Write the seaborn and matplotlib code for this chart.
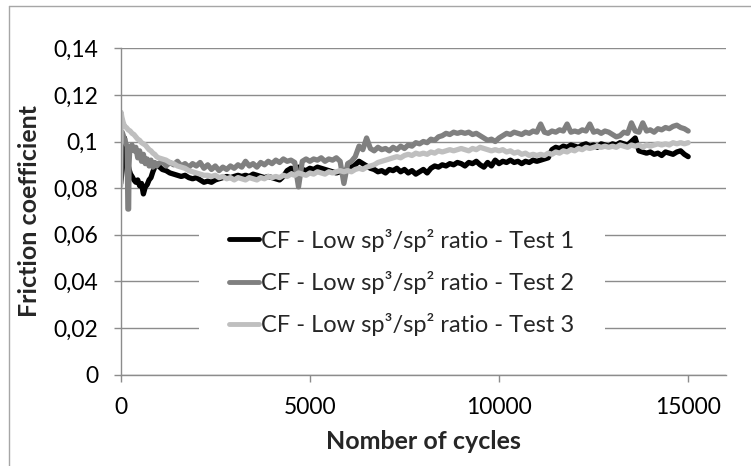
import numpy as np
import pandas as pd
import matplotlib
matplotlib.use("Agg")
import matplotlib.pyplot as plt
from matplotlib.lines import Line2D
import seaborn as sns

# ---------------- data ----------------
series_names = [
    "CF - Low sp³/sp² ratio - Test 1",
    "CF - Low sp³/sp² ratio - Test 2",
    "CF - Low sp³/sp² ratio - Test 3",
]
series_colors = ["#000000", "#808080", "#bfbfbf"]

# early part (0-950 cycles), each test with its own sampling
t1_early_c = [0, 20, 40, 60, 80, 100, 120, 140, 160, 180, 200, 220, 240, 260, 280, 300,
              350, 400, 450, 500, 550, 600, 650, 700, 750, 800, 850, 900, 950]
t1_early_v = [0.082, 0.085, 0.088, 0.092, 0.097, 0.1015, 0.098, 0.095, 0.093, 0.091, 0.0895,
              0.088, 0.087, 0.086, 0.0855, 0.085, 0.0835, 0.0825, 0.0835, 0.0810, 0.0820,
              0.0775, 0.0805, 0.0815, 0.0835, 0.0845, 0.0870, 0.0890, 0.0905]

t2_early_c = [0, 20, 40, 60, 80, 100, 120, 140, 170, 180, 190, 210, 220, 240, 260, 280, 300,
              350, 400, 450, 500, 550, 600, 650, 700, 750, 800, 850, 900, 950]
t2_early_v = [0.100, 0.103, 0.104, 0.103, 0.102, 0.101, 0.100, 0.099, 0.098, 0.085, 0.071,
              0.071, 0.090, 0.097, 0.098, 0.0965, 0.0985, 0.0960, 0.0975, 0.0930, 0.0960,
              0.0915, 0.0945, 0.0905, 0.0925, 0.0895, 0.0920, 0.0890, 0.0910, 0.0895]

t3_early_c = [0, 10, 30, 60, 100, 150, 200, 250, 300, 350, 400, 450, 500, 550, 600, 650, 700,
              750, 800, 850, 900, 950]
t3_early_v = [0.081, 0.1125, 0.1105, 0.1085, 0.1065, 0.1060, 0.1050, 0.1045, 0.1035, 0.1030,
              0.1020, 0.1010, 0.1005, 0.0995, 0.0990, 0.0985, 0.0975, 0.0965, 0.0960, 0.0950,
              0.0945, 0.0935]

# main part, one value every 100 cycles from 1000 to 15000
main_cycles = list(range(1000, 15001, 100))

t1_main = [
    0.0895, 0.0880, 0.0875, 0.0865, 0.0860, 0.0855, 0.0850, 0.0855, 0.0845, 0.0840,  # 1000
    0.0845, 0.0835, 0.0825, 0.0830, 0.0825, 0.0835, 0.0840, 0.0845, 0.0850, 0.0845,  # 2000
    0.0850, 0.0855, 0.0850, 0.0855, 0.0850, 0.0860, 0.0855, 0.0850, 0.0845, 0.0850,  # 3000
    0.0845, 0.0840, 0.0835, 0.0850, 0.0875, 0.0885, 0.0880, 0.0890, 0.0880, 0.0875,  # 4000
    0.0885, 0.0880, 0.0890, 0.0885, 0.0880, 0.0875, 0.0870, 0.0865, 0.0870, 0.0875,  # 5000
    0.0880, 0.0890, 0.0900, 0.0915, 0.0905, 0.0895, 0.0885, 0.0880, 0.0870, 0.0875,  # 6000
    0.0865, 0.0880, 0.0875, 0.0885, 0.0870, 0.0880, 0.0865, 0.0875, 0.0860, 0.0870,  # 7000
    0.0880, 0.0865, 0.0885, 0.0895, 0.0890, 0.0900, 0.0895, 0.0905, 0.0900, 0.0910,  # 8000
    0.0905, 0.0895, 0.0910, 0.0905, 0.0915, 0.0900, 0.0890, 0.0910, 0.0895, 0.0920,  # 9000
    0.0905, 0.0915, 0.0910, 0.0920, 0.0910, 0.0915, 0.0905, 0.0915, 0.0910, 0.0920,  # 10000
    0.0915, 0.0920, 0.0925, 0.0930, 0.0965, 0.0975, 0.0970, 0.0980, 0.0975, 0.0985,  # 11000
    0.0980, 0.0975, 0.0985, 0.0990, 0.0980, 0.0985, 0.0975, 0.0990, 0.0985, 0.0980,  # 12000
    0.0990, 0.0985, 0.0995, 0.0990, 0.0985, 0.1000, 0.1015, 0.0960, 0.0955, 0.0950,  # 13000
    0.0955, 0.0945, 0.0950, 0.0940, 0.0955, 0.0950, 0.0945, 0.0955, 0.0960, 0.0945,  # 14000
    0.0935,                                                                          # 15000
]

t2_main = [
    0.0905, 0.0915, 0.0895, 0.0910, 0.0900, 0.0915, 0.0895, 0.0905, 0.0890, 0.0905,  # 1000
    0.0895, 0.0910, 0.0885, 0.0900, 0.0880, 0.0895, 0.0875, 0.0890, 0.0880, 0.0895,  # 2000
    0.0885, 0.0900, 0.0890, 0.0915, 0.0895, 0.0905, 0.0890, 0.0910, 0.0900, 0.0915,  # 3000
    0.0905, 0.0920, 0.0910, 0.0925, 0.0915, 0.0920, 0.0910, 0.0805, 0.0915, 0.0925,  # 4000
    0.0915, 0.0925, 0.0920, 0.0930, 0.0915, 0.0925, 0.0920, 0.0930, 0.0915, 0.0820,  # 5000
    0.0905, 0.0915, 0.0935, 0.0980, 0.0965, 0.1015, 0.0970, 0.0960, 0.0975, 0.0965,  # 6000
    0.0970, 0.0960, 0.0975, 0.0965, 0.0980, 0.0970, 0.0985, 0.0980, 0.0995, 0.0990,  # 7000
    0.1000, 0.0995, 0.1010, 0.1005, 0.1020, 0.1025, 0.1035, 0.1030, 0.1040, 0.1035,  # 8000
    0.1040, 0.1035, 0.1040, 0.1030, 0.1035, 0.1025, 0.1015, 0.1005, 0.1010, 0.1000,  # 9000
    0.1015, 0.1025, 0.1035, 0.1030, 0.1040, 0.1035, 0.1030, 0.1040, 0.1035, 0.1045,  # 10000
    0.1040, 0.1075, 0.1040, 0.1035, 0.1045, 0.1040, 0.1050, 0.1045, 0.1075, 0.1040,  # 11000
    0.1045, 0.1040, 0.1050, 0.1045, 0.1075, 0.1040, 0.1045, 0.1035, 0.1045, 0.1040,  # 12000
    0.1030, 0.1020, 0.1025, 0.1040, 0.1035, 0.1080, 0.1045, 0.1040, 0.1080, 0.1045,  # 13000
    0.1050, 0.1040, 0.1055, 0.1050, 0.1060, 0.1055, 0.1065, 0.1070, 0.1060, 0.1055,  # 14000
    0.1045,                                                                          # 15000
]

t3_main = [
    0.0930, 0.0925, 0.0920, 0.0910, 0.0905, 0.0895, 0.0890, 0.0885, 0.0875, 0.0870,  # 1000
    0.0865, 0.0860, 0.0855, 0.0855, 0.0850, 0.0855, 0.0845, 0.0850, 0.0840, 0.0845,  # 2000
    0.0835, 0.0845, 0.0840, 0.0835, 0.0845, 0.0840, 0.0835, 0.0845, 0.0840, 0.0850,  # 3000
    0.0845, 0.0850, 0.0845, 0.0855, 0.0850, 0.0860, 0.0855, 0.0865, 0.0860, 0.0855,  # 4000
    0.0865, 0.0860, 0.0870, 0.0865, 0.0860, 0.0870, 0.0865, 0.0870, 0.0875, 0.0870,  # 5000
    0.0875, 0.0870, 0.0880, 0.0885, 0.0880, 0.0890, 0.0895, 0.0900, 0.0910, 0.0915,  # 6000
    0.0920, 0.0925, 0.0930, 0.0935, 0.0930, 0.0940, 0.0945, 0.0940, 0.0950, 0.0945,  # 7000
    0.0950, 0.0945, 0.0955, 0.0950, 0.0960, 0.0955, 0.0960, 0.0965, 0.0960, 0.0965,  # 8000
    0.0970, 0.0965, 0.0960, 0.0970, 0.0965, 0.0975, 0.0970, 0.0965, 0.0960, 0.0965,  # 9000
    0.0960, 0.0965, 0.0955, 0.0960, 0.0950, 0.0955, 0.0945, 0.0950, 0.0940, 0.0945,  # 10000
    0.0940, 0.0945, 0.0940, 0.0950, 0.0945, 0.0955, 0.0950, 0.0960, 0.0955, 0.0965,  # 11000
    0.0960, 0.0970, 0.0965, 0.0975, 0.0970, 0.0975, 0.0980, 0.0975, 0.0980, 0.0975,  # 12000
    0.0980, 0.0975, 0.0985, 0.0980, 0.0975, 0.0985, 0.0980, 0.0985, 0.0975, 0.0985,  # 13000
    0.0980, 0.0985, 0.0990, 0.0985, 0.0990, 0.0985, 0.0995, 0.0990, 0.0995, 0.0990,  # 14000
    0.0995,                                                                          # 15000
]

y_ticks = [0, 0.02, 0.04, 0.06, 0.08, 0.10, 0.12, 0.14]
y_tick_labels = ["0", "0,02", "0,04", "0,06", "0,08", "0,1", "0,12", "0,14"]
x_ticks = [0, 5000, 10000, 15000]
x_tick_labels = ["0", "5000", "10000", "15000"]
x_label = "Nomber of cycles"
y_label = "Friction coefficient"

# ---------------- build long table ----------------
frames = []
for name, ec, ev, mv in [
    (series_names[0], t1_early_c, t1_early_v, t1_main),
    (series_names[1], t2_early_c, t2_early_v, t2_main),
    (series_names[2], t3_early_c, t3_early_v, t3_main),
]:
    assert len(ec) == len(ev) and len(mv) == len(main_cycles)
    frames.append(pd.DataFrame({"cycles": list(ec) + main_cycles,
                                "cf": list(ev) + mv,
                                "series": name}))
df = pd.concat(frames, ignore_index=True)

# ---------------- style ----------------
sns.set_style("white")
plt.rcParams["font.family"] = ["Lato", "DejaVu Sans"]

fig = plt.figure(figsize=(7.51, 4.66), dpi=100)
ax = fig.add_axes([120.7 / 751, 1 - 374.5 / 466, (726 - 120.7) / 751, (374.5 - 48.3) / 466])

sns.lineplot(data=df, x="cycles", y="cf", hue="series", hue_order=series_names,
             palette=series_colors, estimator=None, sort=False, linewidth=3.8, ax=ax)

ax.set_xlim(0, 16000)
ax.set_ylim(0, 0.14)
ax.set_yticks(y_ticks)
ax.set_yticklabels(y_tick_labels)
ax.set_xticks(x_ticks)
ax.set_xticklabels(x_tick_labels)

grid_c = "#8c8c8c"
ax.yaxis.grid(True, color=grid_c, linewidth=1.0)
ax.xaxis.grid(False)
ax.set_axisbelow(True)
for s in ["top", "right"]:
    ax.spines[s].set_visible(False)
for s in ["left", "bottom"]:
    ax.spines[s].set_color(grid_c)
    ax.spines[s].set_linewidth(1.0)

ax.tick_params(axis="y", direction="out", length=5, width=1, color=grid_c,
               pad=11, labelsize=16.5, labelcolor="#000000", left=True)
ax.tick_params(axis="x", direction="out", length=5, width=1, color=grid_c,
               pad=11, labelsize=16.5, labelcolor="#000000", bottom=True)

ax.set_xlabel(x_label, fontsize=18, fontweight="bold", labelpad=9)
ax.set_ylabel(y_label, fontsize=18, fontweight="bold", labelpad=9)

handles, labels = ax.get_legend_handles_labels()
leg = ax.legend(handles, labels, loc="center", bbox_to_anchor=(0.464, 0.2817),
                frameon=True, fontsize=17, handlelength=1.25, handletextpad=0.08,
                labelspacing=0.82, borderpad=1.3, borderaxespad=0, fancybox=False)
leg.get_frame().set_facecolor("white")
leg.get_frame().set_edgecolor("none")
leg.get_frame().set_alpha(1.0)
for lh in leg.get_lines():
    lh.set_linewidth(3.5)

# outer chart frame
fig.add_artist(Line2D([9 / 751, 9 / 751], [0, 1 - 6 / 466], transform=fig.transFigure,
                      color="#a6a6a6", linewidth=1.0))
fig.add_artist(Line2D([9 / 751, 1], [1 - 6 / 466, 1 - 6 / 466], transform=fig.transFigure,
                      color="#a6a6a6", linewidth=1.0))

fig.savefig("out.png", dpi=100)
